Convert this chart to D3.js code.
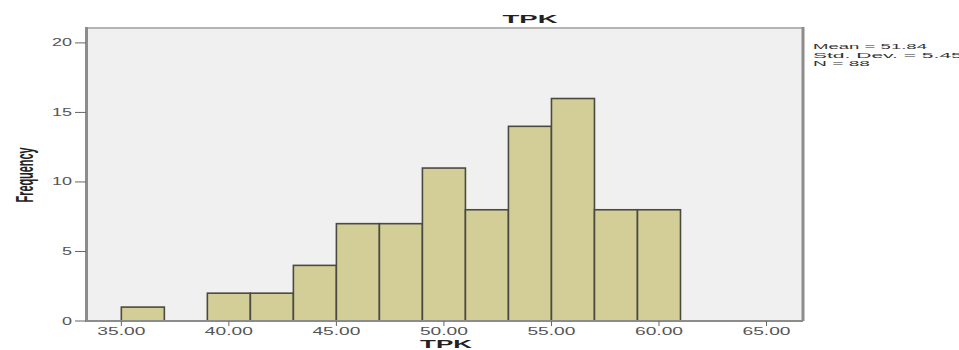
<!DOCTYPE html>
<html>
<head>
<meta charset="utf-8">
<script src="https://cdn.jsdelivr.net/npm/d3@7"></script>
<style>
body{margin:0;background:#fff;}
svg{display:block;font-family:Arial,"Liberation Sans",sans-serif;}
</style>
</head>
<body>
<svg id="vis" width="959" height="350"></svg>
<script>
// histogram bins (width 2) and counts
var binStarts=[35,37,39,41,43,45,47,49,51,53,55,57,59];
var counts=[1,0,2,2,4,7,7,11,8,14,16,8,8];
var binWidth=2;
var xTicks=[35,40,45,50,55,60,65];
var yTicks=[0,5,10,15,20];
var stats=["Mean = 51.84","Std. Dev. = 5.458","N = 88"];

var svg=d3.select("svg#vis");
var x=d3.scaleLinear().domain([33.45,66.65]).range([88,802]);
var y=d3.scaleLinear().domain([0,21]).range([321,29]);

// plot background
svg.append("rect")
	.attr("x",x.range()[0]).attr("y",y.range()[1])
	.attr("width",x.range()[1]-x.range()[0])
	.attr("height",y.range()[0]-y.range()[1])
	.attr("fill","#f0f0f0");

// frame
svg.append("line").attr("x1",86).attr("x2",803).attr("y1",28).attr("y2",28)
	.attr("stroke","#b4b4b4").attr("stroke-width",2);
svg.append("line").attr("x1",803).attr("x2",803).attr("y1",27).attr("y2",321)
	.attr("stroke","#8c8c8c").attr("stroke-width",3);

// bars
svg.selectAll("rect.bar")
	.data(binStarts)
	.enter()
	.append("rect")
	.attr("class","bar")
	.attr("x",function(d){return x(d);})
	.attr("width",function(d){return x(d+binWidth)-x(d);})
	.attr("y",function(d,i){return y(counts[i]);})
	.attr("height",function(d,i){return y(0)-y(counts[i]);})
	.attr("fill","#d3ce97")
	.attr("stroke","#4a4a40")
	.attr("stroke-width",1.6)
	.style("display",function(d,i){return counts[i]>0?null:"none";});

// axes lines
svg.append("line").attr("x1",86).attr("x2",803).attr("y1",y(0)).attr("y2",y(0))
	.attr("stroke","#8c8c8c").attr("stroke-width",2);
svg.append("line").attr("x1",86.5).attr("x2",86.5).attr("y1",27).attr("y2",y(0)+1)
	.attr("stroke","#8c8c8c").attr("stroke-width",3);

// y ticks
var yg=svg.append("g");
yg.selectAll("line").data(yTicks).enter().append("line")
	.attr("x1",75).attr("x2",86).attr("y1",function(d){return y(d);}).attr("y2",function(d){return y(d);})
	.attr("stroke","#666").attr("stroke-width",1);
yg.selectAll("text").data(yTicks).enter().append("text")
	.attr("x",72).attr("y",function(d){return y(d)+3.5;})
	.attr("text-anchor","end")
	.attr("font-size",10).attr("fill","#555")
	.attr("textLength",function(d){return String(d).length*10;})
	.attr("lengthAdjust","spacingAndGlyphs")
	.text(String);

// x ticks
var xg=svg.append("g");
xg.selectAll("line").data(xTicks).enter().append("line")
	.attr("x1",function(d){return x(d);}).attr("x2",function(d){return x(d);})
	.attr("y1",y(0)).attr("y2",y(0)+5)
	.attr("stroke","#666").attr("stroke-width",1);
xg.selectAll("text").data(xTicks).enter().append("text")
	.attr("x",function(d){return x(d);}).attr("y",335)
	.attr("text-anchor","middle")
	.attr("font-size",10).attr("fill","#555")
	.attr("textLength",48)
	.attr("lengthAdjust","spacingAndGlyphs")
	.text(function(d){return d3.format(".2f")(d);});

// titles
svg.append("text").attr("x",530).attr("y",23)
	.attr("text-anchor","middle").attr("font-size",11).attr("font-weight","bold")
	.attr("fill","#222").attr("textLength",55).attr("lengthAdjust","spacingAndGlyphs")
	.text("TPK");
svg.append("text").attr("x",446).attr("y",348)
	.attr("text-anchor","middle").attr("font-size",11).attr("font-weight","bold")
	.attr("fill","#222").attr("textLength",52).attr("lengthAdjust","spacingAndGlyphs")
	.text("TPK");
svg.append("text")
	.attr("transform","translate(33,175) scale(2.3,1) rotate(-90)")
	.attr("text-anchor","middle").attr("font-size",10).attr("font-weight","bold")
	.attr("fill","#222").attr("textLength",55).attr("lengthAdjust","spacingAndGlyphs")
	.text("Frequency");

// stats box
svg.selectAll("text.stat").data(stats).enter().append("text")
	.attr("class","stat")
	.attr("x",813).attr("y",function(d,i){return 49+i*8.5;})
	.attr("font-size",7.5).attr("fill","#333")
	.attr("textLength",function(d){return d.length*9.5;})
	.attr("lengthAdjust","spacingAndGlyphs")
	.text(String);
</script>
</body>
</html>
